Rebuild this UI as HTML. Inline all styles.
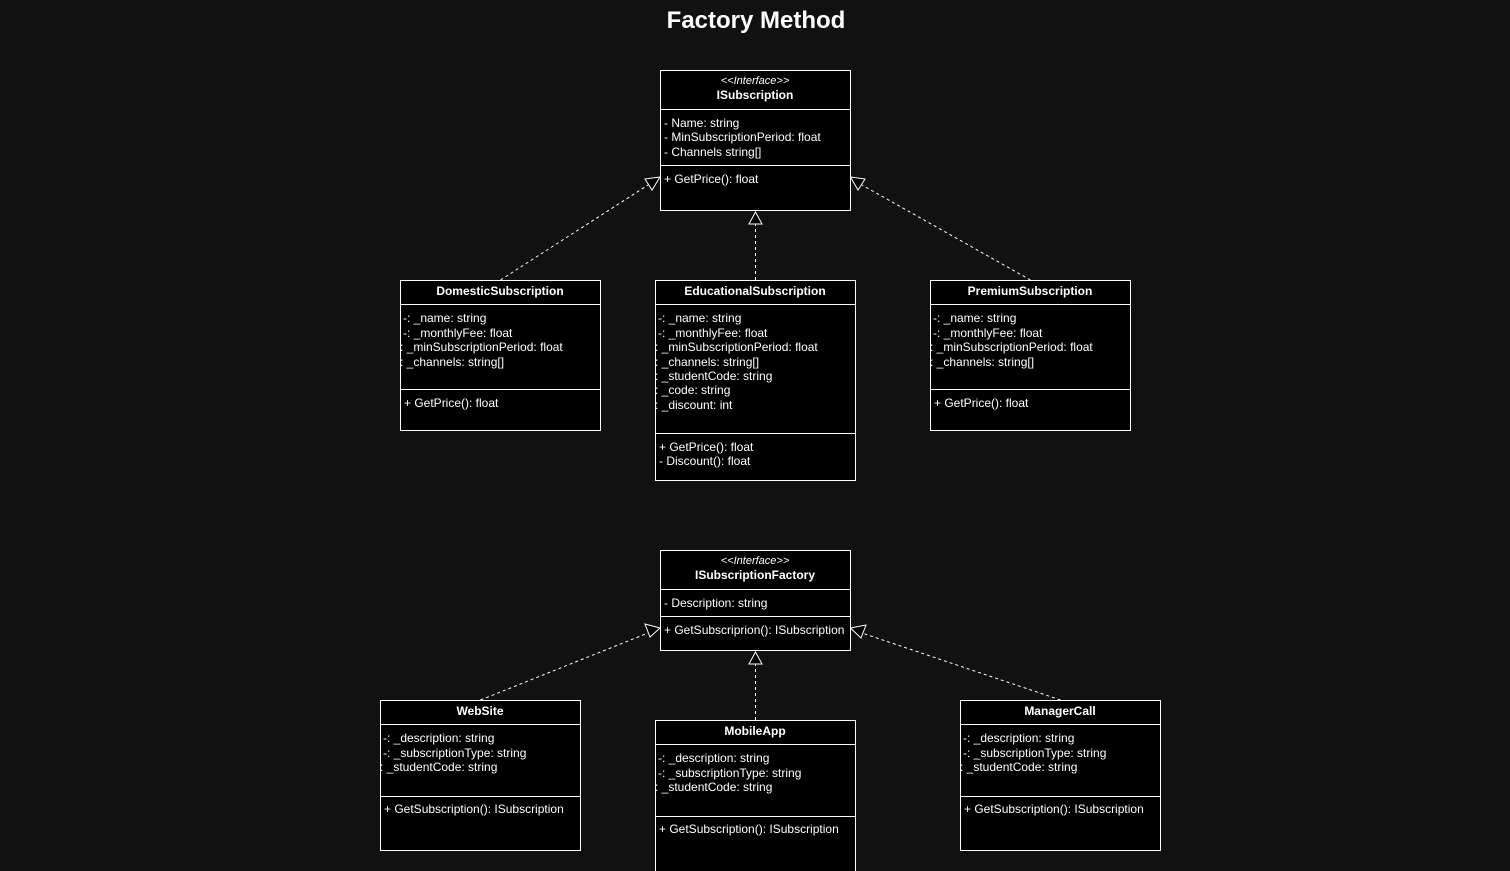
<!DOCTYPE html>
<html><head><meta charset="utf-8"><style>
html,body{margin:0;padding:0;background:#111111;width:1510px;height:871px;overflow:hidden}
svg{display:block}
text{font-family:"Liberation Sans",Arial,sans-serif;fill:#ffffff;font-size:12px}
.b{font-weight:bold}
.c{text-anchor:middle}
rect{fill:#000;stroke:#fff;stroke-width:1}
line.s{stroke:#fff;stroke-width:1}
.d{stroke:#fff;stroke-width:1;stroke-dasharray:3,3;fill:none}
.ah{fill:#000;stroke:#fff;stroke-width:1}
</style></head><body>
<svg width="1510" height="871" viewBox="0 0 1510 871">
<text x="756" y="28" class="b c" style="font-size:24px">Factory Method</text>

<path class="d" d="M500.5 280 L648 185"/>
<polygon class="ah" points="660,177 645,179 652,190"/>
<path class="d" d="M755.5 280 L755.5 224"/>
<polygon class="ah" points="755.5,212 749,224 762,224"/>
<path class="d" d="M1030.5 280 L862 185"/>
<polygon class="ah" points="850.5,177 865,179 858,190"/>

<path class="d" d="M480.5 700 L648 633"/>
<polygon class="ah" points="660,628 645,624 650,637"/>
<path class="d" d="M755.5 720 L755.5 664"/>
<polygon class="ah" points="755.5,652 749,664 762,664"/>
<path class="d" d="M1060.5 700 L862 633"/>
<polygon class="ah" points="850.5,628 866,625 861,638"/>

<rect x="660.5" y="70.5" width="190" height="140"/>
<line class="s" x1="660" y1="109.5" x2="851" y2="109.5"/>
<line class="s" x1="660" y1="165.5" x2="851" y2="165.5"/>
<text x="755" y="84" class="c" style="font-size:11px;font-style:italic">&lt;&lt;Interface&gt;&gt;</text>
<text x="755" y="99" class="b c">ISubscription</text>
<text x="664" y="127">- Name: string</text>
<text x="664" y="141">- MinSubscriptionPeriod: float</text>
<text x="664" y="156">- Channels string[]</text>
<text x="664" y="183">+ GetPrice(): float</text>

<rect x="400.5" y="280.5" width="200" height="150"/>
<line class="s" x1="400" y1="304.5" x2="601" y2="304.5"/>
<line class="s" x1="400" y1="389.5" x2="601" y2="389.5"/>
<text x="500" y="295" class="b c">DomesticSubscription</text>
<text x="403" y="322">-: _name: string</text>
<text x="403" y="337">-: _monthlyFee: float</text>
<text x="400" y="351">: _minSubscriptionPeriod: float</text>
<text x="400" y="366">: _channels: string[]</text>
<text x="404" y="407">+ GetPrice(): float</text>

<rect x="655.5" y="280.5" width="200" height="200"/>
<line class="s" x1="655" y1="304.5" x2="856" y2="304.5"/>
<line class="s" x1="655" y1="433.5" x2="856" y2="433.5"/>
<text x="755" y="295" class="b c">EducationalSubscription</text>
<text x="658" y="322">-: _name: string</text>
<text x="658" y="337">-: _monthlyFee: float</text>
<text x="655" y="351">: _minSubscriptionPeriod: float</text>
<text x="655" y="366">: _channels: string[]</text>
<text x="655" y="380">: _studentCode: string</text>
<text x="655" y="394">: _code: string</text>
<text x="655" y="409">: _discount: int</text>
<text x="659" y="451">+ GetPrice(): float</text>
<text x="659" y="465">-  Discount(): float</text>

<rect x="930.5" y="280.5" width="200" height="150"/>
<line class="s" x1="930" y1="304.5" x2="1131" y2="304.5"/>
<line class="s" x1="930" y1="389.5" x2="1131" y2="389.5"/>
<text x="1030" y="295" class="b c">PremiumSubscription</text>
<text x="933" y="322">-: _name: string</text>
<text x="933" y="337">-: _monthlyFee: float</text>
<text x="930" y="351">: _minSubscriptionPeriod: float</text>
<text x="930" y="366">: _channels: string[]</text>
<text x="934" y="407">+ GetPrice(): float</text>

<rect x="660.5" y="550.5" width="190" height="100"/>
<line class="s" x1="660" y1="589.5" x2="851" y2="589.5"/>
<line class="s" x1="660" y1="616.5" x2="851" y2="616.5"/>
<text x="755" y="564" class="c" style="font-size:11px;font-style:italic">&lt;&lt;Interface&gt;&gt;</text>
<text x="755" y="579" class="b c">ISubscriptionFactory</text>
<text x="664" y="607">- Description: string</text>
<text x="664" y="634">+ GetSubscriprion(): ISubscription</text>

<rect x="380.5" y="700.5" width="200" height="150"/>
<line class="s" x1="380" y1="724.5" x2="581" y2="724.5"/>
<line class="s" x1="380" y1="796.5" x2="581" y2="796.5"/>
<text x="480" y="715" class="b c">WebSite</text>
<text x="383" y="742">-: _description: string</text>
<text x="383" y="757">-: _subscriptionType: string</text>
<text x="380" y="771">: _studentCode: string</text>
<text x="384" y="813">+ GetSubscription(): ISubscription</text>

<rect x="655.5" y="720.5" width="200" height="160"/>
<line class="s" x1="655" y1="744.5" x2="856" y2="744.5"/>
<line class="s" x1="655" y1="816.5" x2="856" y2="816.5"/>
<text x="755" y="735" class="b c">MobileApp</text>
<text x="658" y="762">-: _description: string</text>
<text x="658" y="777">-: _subscriptionType: string</text>
<text x="655" y="791">: _studentCode: string</text>
<text x="659" y="833">+ GetSubscription(): ISubscription</text>

<rect x="960.5" y="700.5" width="200" height="150"/>
<line class="s" x1="960" y1="724.5" x2="1161" y2="724.5"/>
<line class="s" x1="960" y1="796.5" x2="1161" y2="796.5"/>
<text x="1060" y="715" class="b c">ManagerCall</text>
<text x="963" y="742">-: _description: string</text>
<text x="963" y="757">-: _subscriptionType: string</text>
<text x="960" y="771">: _studentCode: string</text>
<text x="964" y="813">+ GetSubscription(): ISubscription</text>
</svg>
</body></html>
